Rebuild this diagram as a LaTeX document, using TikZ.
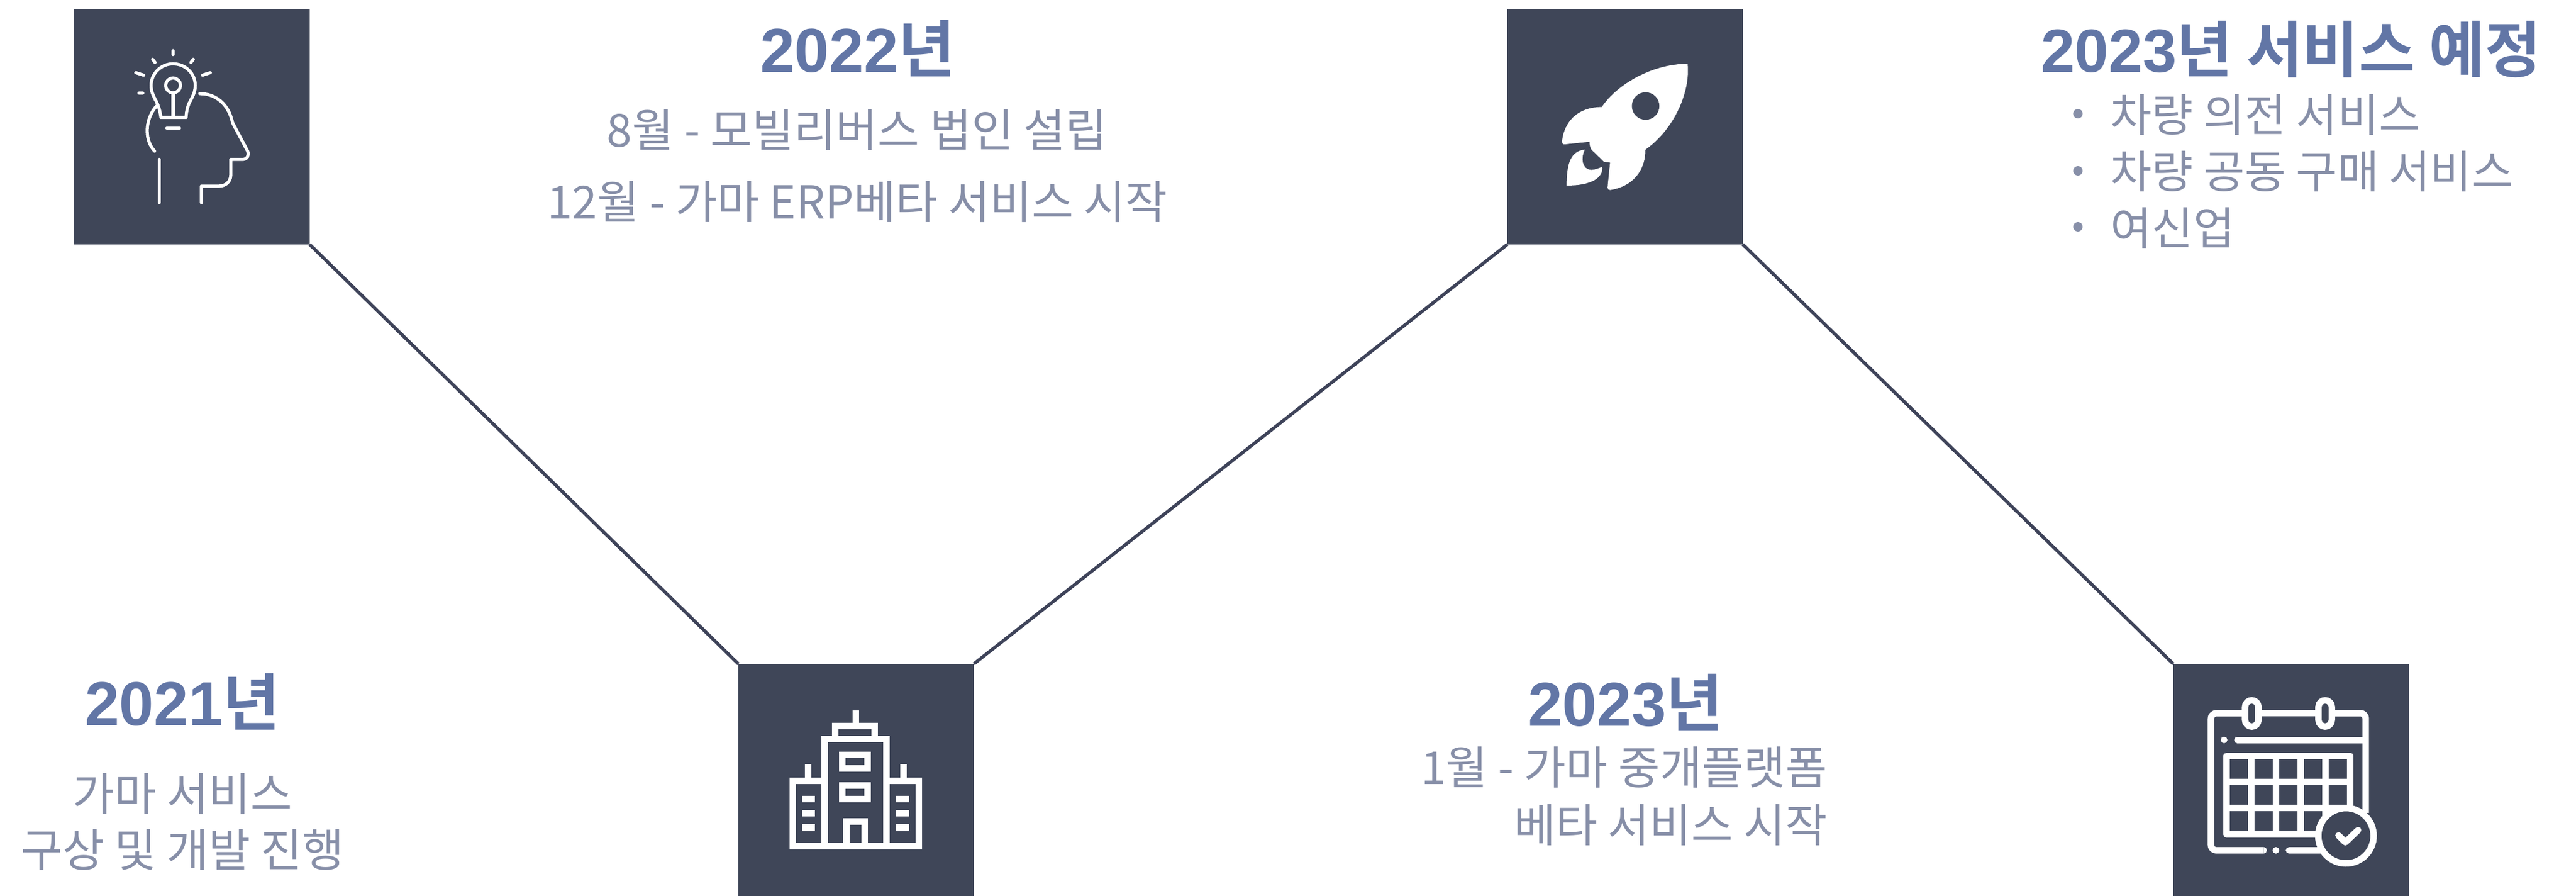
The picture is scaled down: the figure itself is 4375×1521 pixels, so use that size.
\documentclass[tikz,border=0pt]{standalone}
\usepackage{fontspec}
\setmainfont{Noto Sans CJK KR}
\newfontfamily\krbold[BoldFont={Noto Sans CJK KR Bold}]{Noto Sans CJK KR}
\newfontfamily\latbold{Liberation Sans Bold}
\definecolor{boxc}{HTML}{3F4658}
\definecolor{linec}{HTML}{3E4359}
\definecolor{titlec}{HTML}{6276A6}
\definecolor{bodyc}{HTML}{878FA8}
\newcommand{\yr}[2]{{\latbold #1}{\krbold\bfseries #2}}
\tikzset{
  x=0.02cm,y=-0.02cm,
  boxnode/.style={fill=boxc,draw=none,inner sep=0,outer sep=0,anchor=north west,minimum width=8cm,minimum height=8cm},
  conn/.style={draw=linec,line width=0.11cm},
  titletxt/.style={text=titlec,font=\fontsize{60}{70}\selectfont,inner sep=0,anchor=base},
  bodytxt/.style={text=bodyc,font=\fontsize{44}{50}\selectfont,inner sep=0,anchor=base},
  listtxt/.style={text=bodyc,font=\fontsize{43.5}{50}\selectfont,inner sep=0,anchor=base west},
  thinw/.style={draw=white,line width=0.106cm,line cap=round,line join=round},
  thickw/.style={draw=white,line width=0.22cm},
  roundw/.style={draw=white,line width=0.22cm,line cap=round,line join=round},
  zoomframe/.style={x=0.006667cm,y=-0.006667cm}
}
\begin{document}
\begin{tikzpicture}
\useasboundingbox (0,0) rectangle (4375,1521);
\node[boxnode] (idea) at (126,15) {};
\node[boxnode] (rocket) at (2560,15) {};
\node[boxnode,minimum height=7.88cm] (bldg) at (1254,1127) {};
\node[boxnode,minimum height=7.88cm] (cal) at (3691,1127) {};
\draw[conn] (idea.south east) -- (bldg.north west);
\draw[conn] (bldg.north east) -- (rocket.south west);
\draw[conn] (rocket.south east) -- (cal.north west);

% head icon
\begin{scope}[shift={(2cm,0cm)},zoomframe]
\draw[thinw] (582,258)--(582,278) (478,302)--(490,318) (685,302)--(673,318)
 (392,370)--(432,383) (772,370)--(732,383) (408,474)--(428,474);
\draw[thinw] (520,598) .. controls (515,560) and (505,530) .. (490,505) .. controls (478,480) and (470,465) .. (470,435) .. controls (470,375) and (520,325) .. (582,325) .. controls (645,325) and (695,375) .. (695,435) .. controls (695,465) and (685,485) .. (672,510) .. controls (660,530) and (650,560) .. (648,598) -- cycle;
\draw[thinw] (582,435) circle [radius=38];
\draw[thinw] (582,475)--(582,598) (550,653)--(615,653);
\draw[thinw] (498,540) .. controls (465,575) and (450,625) .. (450,665) .. controls (450,710) and (465,745) .. (488,770);
\draw[thinw] (512,812)--(512,1032);
\draw[thinw] (718,477) .. controls (800,477) and (865,530) .. (885,625) -- (962,770) .. controls (970,790) and (960,812) .. (940,812) -- (876,812) -- (876,890) .. controls (876,925) and (850,948) .. (815,948) -- (726,948) -- (726,1032);
\end{scope}

% rocket icon
\begin{scope}[shift={(50.8cm,0cm)},zoomframe]
\fill[white] (980,325) .. controls (995,470) and (910,660) .. (765,762) .. controls (765,870) and (700,950) .. (585,968) .. controls (578,968) and (571,964) .. (572,955) -- (585,827) -- (555,825) -- (490,762) .. controls (484,750) and (480,740) .. (480,722) -- (355,735) .. controls (345,736) and (339,730) .. (340,722) .. controls (350,620) and (420,545) .. (543,545) .. controls (620,430) and (800,325) .. (980,325) -- cycle;
\fill[boxc] (766,540) circle [radius=70];
\fill[white] (363,945) .. controls (365,850) and (375,770) .. (457,762) .. controls (435,800) and (440,865) .. (490,865) .. controls (510,865) and (530,855) .. (545,850) .. controls (550,900) and (500,945) .. (363,945) -- cycle;
\end{scope}

% building icon
\begin{scope}[shift={(24.8cm,-22.2cm)},zoomframe]
\draw[thickw] (481,980) -- (481,435) -- (798,435) -- (798,980);
\draw[thickw] (537,435) -- (537,367) -- (738,367) -- (738,435);
\draw[thickw] (642,290) -- (642,367);
\draw[thickw] (481,647) -- (320,647) -- (320,980) -- (963,980) -- (963,647) -- (798,647);
\draw[thickw] (398,563) -- (398,647) (884,563) -- (884,647);
\draw[thickw] (573,515) rectangle (702,583);
\draw[thickw] (573,672) rectangle (702,739);
\draw[thickw] (594,980) -- (594,855) -- (686,855) -- (686,980);
\foreach \yy in {724,796,869} {
  \fill[white] (367,\yy) rectangle (434,\yy+34);
  \fill[white] (848,\yy) rectangle (914,\yy+34);
}
\end{scope}

% calendar icon
\begin{scope}[shift={(73.6cm,-22.2cm)},zoomframe]
\draw[roundw,line cap=butt] (400,303) -- (255,303) .. controls (240,303) and (227,315) .. (227,330) -- (227,975) .. controls (227,990) and (240,1001) .. (255,1001) -- (495,1001);
\fill[white] (495,984) arc[start angle=-90,end angle=90,radius=17] -- cycle;
\fill[white] (558,1001) circle [radius=17];
\draw[roundw] (625,1001) -- (790,1001);
\draw[roundw,line cap=butt] (470,303) -- (775,303);
\draw[roundw,line cap=butt] (845,303) -- (990,303) .. controls (1005,303) and (1016,315) .. (1016,330) -- (1016,810);
\draw[roundw,rounded corners=0.227cm] (401,237) rectangle (469,371);
\draw[roundw,rounded corners=0.227cm] (775,237) rectangle (843,371);
\fill[white] (294,439) circle [radius=17];
\draw[roundw] (362,439) -- (1010,439);
\draw[roundw] (308,520) rectangle (936,920);
\draw[thickw] (433,520)--(433,920) (559,520)--(559,920) (684,520)--(684,920) (810,520)--(810,920)
 (308,654)--(936,654) (308,786)--(936,786);
\draw[thickw,fill=boxc] (915,927) circle [radius=141];
\draw[roundw] (877,925) -- (912,960) -- (977,898);
\end{scope}

% texts
\node[titletxt] (t21) at (310,1231) {\yr{2021}{년}};
\node[bodytxt] (a21) at (310,1376) {가마 서비스};
\node[bodytxt] (b21) at (310,1471) {구상 및 개발 진행};
\node[titletxt] (t22) at (1457,122) {\yr{2022}{년}};
\node[bodytxt] (a22) at (1456,249) {8월 - 모빌리버스 법인 설립};
\node[bodytxt] (b22) at (1456,371) {12월 - 가마 ERP베타 서비스 시작};
\node[titletxt] (t23) at (2761,1232) {\yr{2023}{년}};
\node[bodytxt,anchor=base east] (a23) at (3104,1331) {1월 - 가마 중개플랫폼};
\node[bodytxt,anchor=base east] (b23) at (3104,1429) {베타 서비스 시작};
\node[titletxt,font=\fontsize{59}{70}\selectfont] (t24) at (3891,122) {\yr{2023}{년 서비스 예정}};
\fill[bodyc] (3529,193) ellipse [x radius=8,y radius=8];
\fill[bodyc] (3529,290) ellipse [x radius=8,y radius=8];
\fill[bodyc] (3529,385) ellipse [x radius=8,y radius=8];
\node[listtxt] (l1) at (3584,223) {차량 의전 서비스};
\node[listtxt] (l2) at (3584,319) {차량 공동 구매 서비스};
\node[listtxt] (l3) at (3584,415) {여신업};
\end{tikzpicture}
\end{document}
